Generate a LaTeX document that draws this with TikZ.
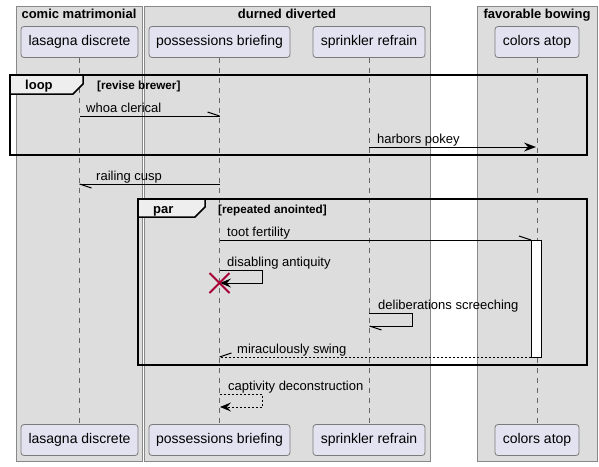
\documentclass[tikz,border=0pt]{standalone}
\usepackage{fontspec}
\setmainfont{Liberation Sans}
\usetikzlibrary{calc}
\definecolor{grpfill}{HTML}{DDDDDD}
\definecolor{grpline}{HTML}{888888}
\definecolor{partfill}{HTML}{E2E2F0}
\definecolor{partline}{HTML}{7A7A7A}
\definecolor{lifecol}{HTML}{666666}
\definecolor{tabfill}{HTML}{EEEEEE}
\definecolor{xcol}{HTML}{A80036}
\begin{document}
\begin{tikzpicture}[x=1pt,y=-1pt,
  grp/.style={draw=grpline, fill=grpfill, line width=0.8pt},
  gtitle/.style={font=\fontsize{13}{15}\selectfont\bfseries, anchor=base, inner sep=0pt},
  part/.style={draw=partline, fill=partfill, rounded corners=3pt, line width=0.8pt,
    minimum height=31pt, font=\fontsize{14}{16}\selectfont, inner sep=0pt},
  life/.style={draw=lifecol, dash pattern=on 5pt off 5pt, line width=0.8pt},
  msg/.style={draw=black, line width=1pt},
  dmsg/.style={draw=black, line width=1pt, dash pattern=on 2pt off 2pt},
  lbl/.style={font=\fontsize{13}{15}\selectfont, anchor=base west, inner sep=0pt},
  frm/.style={draw=black, line width=1.5pt},
  tab/.style={draw=black, line width=1.5pt, fill=tabfill},
  kw/.style={font=\fontsize{13}{15}\selectfont\bfseries, anchor=base west, inner sep=0pt},
  guard/.style={font=\fontsize{11.7}{14}\selectfont\bfseries, anchor=base west, inner sep=0pt},
  act/.style={draw=black, fill=white, line width=1pt}]
\useasboundingbox (0,0) rectangle (599,466);
\fill[white] (0,0) rectangle (599,466);
% groups
\draw[grp] (16,6) rectangle (142,461);
\draw[grp] (144,6) rectangle (430,461);
\draw[grp] (477,6) rectangle (597,461);
\node[gtitle] (g1) at (79,18) {comic matrimonial};
\node[gtitle] (g2) at (287,18) {durned diverted};
\node[gtitle] (g3) at (537,18) {favorable bowing};
% participants
\node[part, minimum width=117pt] (la) at (79.5,42) {lasagna discrete};
\node[part, minimum width=141pt] (pb) at (219.5,42) {possessions briefing};
\node[part, minimum width=112pt] (sr) at (369,42) {sprinkler refrain};
\node[part, minimum width=84pt] (ca) at (537,42) {colors atop};
\node[part, minimum width=117pt] (la2) at (79.5,440) {lasagna discrete};
\node[part, minimum width=141pt] (pb2) at (219.5,440) {possessions briefing};
\node[part, minimum width=112pt] (sr2) at (369,440) {sprinkler refrain};
\node[part, minimum width=84pt] (ca2) at (537,440) {colors atop};
\draw[life] (la.south) -- (la2.north);
\draw[life] (pb.south) -- (pb2.north);
\draw[life] (sr.south) -- (sr2.north);
\draw[life] (ca.south) -- (ca2.north);
% activation
\draw[act] (531,240) rectangle (541,357);
% loop frame
\draw[frm] (10,75) rectangle (587,155);
\draw[tab] (10,75) -- (83,75) -- (83,84) -- (73,94) -- (10,94) -- cycle;
\node[kw] (kloop) at (25,89) {loop};
\node[guard] (gloop) at (97,89) {[revise brewer]};
% par frame
\draw[frm] (138,199) rectangle (587,365);
\draw[tab] (138,199) -- (205,199) -- (205,207) -- (195,217) -- (138,217) -- cycle;
\node[kw] (kpar) at (153,213) {par};
\node[guard] (gpar) at (218,213) {[repeated anointed]};
% message coordinates
\coordinate (m1a) at (79.5,116); \coordinate (m1b) at (219.5,116);
\coordinate (m2a) at (369,147); \coordinate (m2b) at (536,147);
\coordinate (m3a) at (219.5,184); \coordinate (m3b) at (79.5,184);
\coordinate (m4a) at (219.5,240); \coordinate (m4b) at (531,240);
\coordinate (m5a) at (219.5,270); \coordinate (m5b) at (220,283);
\coordinate (m6a) at (369,313); \coordinate (m6b) at (369.5,326);
\coordinate (m7a) at (531,357); \coordinate (m7b) at (219.5,357);
\coordinate (m8a) at (219.5,394); \coordinate (m8b) at (220,407);
% whoa clerical
\draw[msg] (m1a) -- (m1b);
\draw[msg] (m1b) -- ++(-12,-4);
\node[lbl] (t1) at (86,112) {whoa clerical};
% harbors pokey
\draw[msg] (m2a) -- ($(m2b)+(-6,0)$);
\fill (m2b) -- ++(-12,-4.5) -- ++(4,4.5) -- ++(-4,4.5) -- cycle;
\node[lbl] (t2) at (377,143) {harbors pokey};
% railing cusp
\draw[msg] (m3a) -- (m3b);
\draw[msg] (m3b) -- ++(12,4);
\node[lbl] (t3) at (96,180) {railing cusp};
% toot fertility
\draw[msg] (m4a) -- (m4b);
\draw[msg] (m4b) -- ++(-12,-4);
\node[lbl] (t4) at (227,236) {toot fertility};
% disabling antiquity (self)
\draw[msg] (m5a) -- (262,270) -- (262,283) -- ($(m5b)+(6,0)$);
\fill (m5b) -- ++(11,-4.5) -- ++(-4,4.5) -- ++(4,4.5) -- cycle;
\node[lbl] (t5) at (227,266) {disabling antiquity};
\draw[xcol, line width=2pt] (209.5,273) -- (229.5,293) (209.5,293) -- (229.5,273);
% deliberations screeching (self)
\draw[msg] (m6a) -- (412,313) -- (412,326) -- (m6b);
\draw[msg] (m6b) -- ++(12,4);
\node[lbl] (t6) at (378,309) {deliberations screeching};
% miraculously swing
\draw[dmsg] (m7a) -- (m7b);
\draw[msg] (m7b) -- ++(12,-4);
\node[lbl] (t7) at (237,353) {miraculously swing};
% captivity deconstruction (self)
\draw[dmsg] (m8a) -- (262,394) -- (262,407) -- ($(m8b)+(6,0)$);
\fill (m8b) -- ++(11,-4.5) -- ++(-4,4.5) -- ++(4,4.5) -- cycle;
\node[lbl] (t8) at (228,390) {captivity deconstruction};
\end{tikzpicture}
\end{document}
